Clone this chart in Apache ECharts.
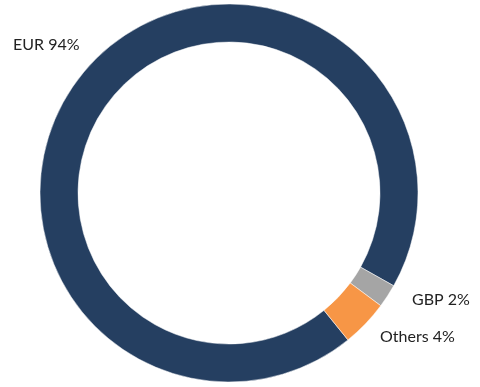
<!DOCTYPE html>
<html><head><meta charset="utf-8">
<script src="https://cdn.jsdelivr.net/npm/echarts@6/dist/echarts.min.js"></script>
<style>html,body{margin:0;padding:0;background:#fff}#c{width:480px;height:387px}</style>
</head><body><div id="c"></div>
<script>
var categories = ['EUR', 'GBP', 'Others'];
var values = [94, 2, 4];
var colors = ['#253F61', '#A5A5A5', '#F79646'];
var labelPos = [[13, 45], [412, 300], [380, 337]];

var chart = echarts.init(document.getElementById('c'), null, {renderer: 'canvas'});
chart.setOption({
  animation: false,
  series: [{
    type: 'pie',
    center: [229, 193],
    radius: [151, 189],
    startAngle: 309,
    clockwise: true,
    avoidLabelOverlap: false,
    data: categories.map(function (c, i) {
      return {name: c, value: values[i], itemStyle: {color: colors[i]}};
    }),
    itemStyle: {borderColor: '#ffffff', borderWidth: 0.5},
    label: {
      show: true,
      position: 'outside',
      formatter: function (p) { return p.name + ' ' + p.value + '%'; },
      fontFamily: 'Lato',
      fontSize: 16,
      color: '#222222'
    },
    labelLine: {show: false},
    labelLayout: function (p) {
      var pos = labelPos[p.dataIndex];
      return {x: pos[0], y: pos[1], align: 'left', verticalAlign: 'middle'};
    },
    emphasis: {disabled: true}
  }]
});
</script></body></html>
